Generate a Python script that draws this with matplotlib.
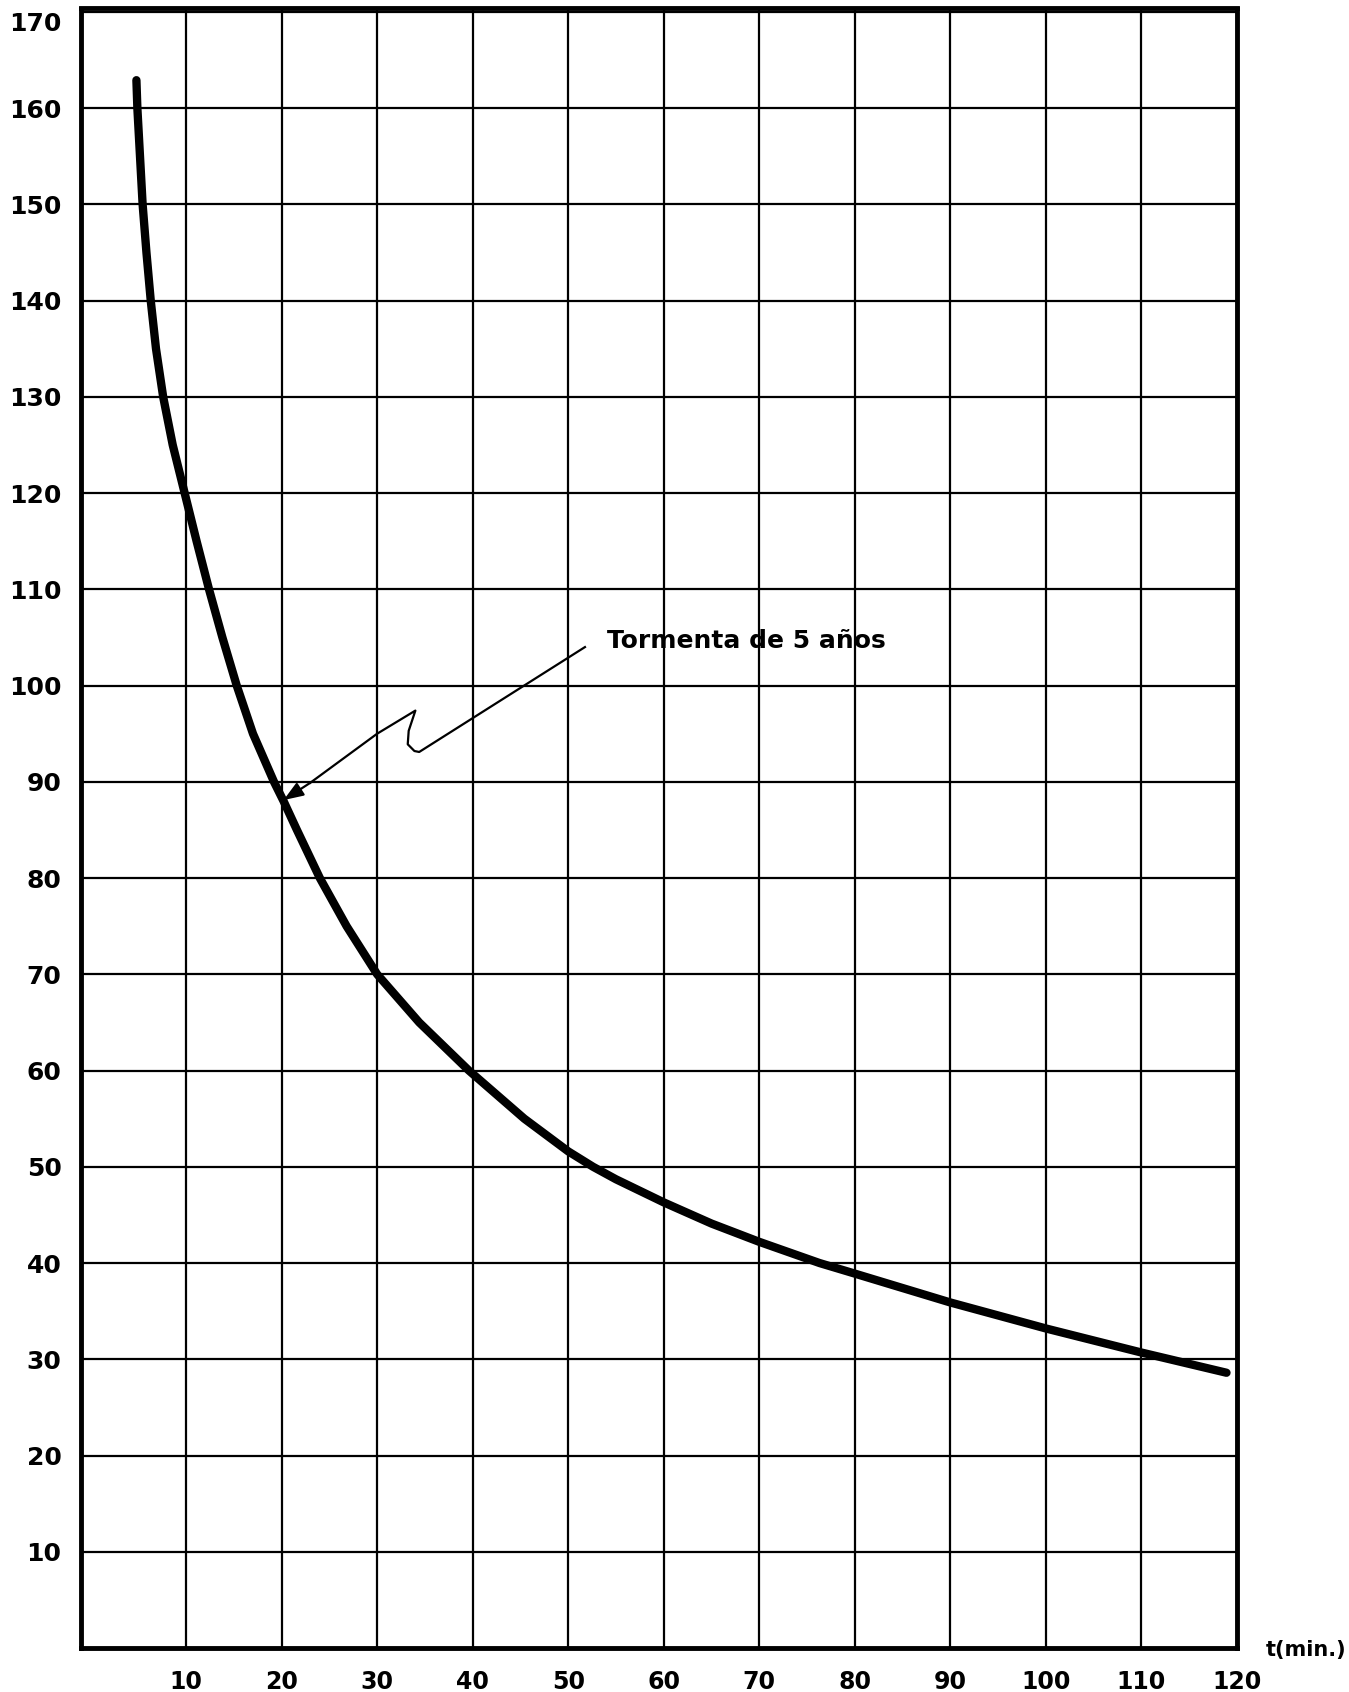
import numpy as np
import matplotlib
matplotlib.use("Agg")
import matplotlib.pyplot as plt
import matplotlib.transforms as mtransforms

# curve: duration (min) vs intensity
t_min = [4.8, 4.9, 5.45, 5.85, 6.3, 6.85, 7.6, 8.6, 9.85, 11.1, 12.4, 13.8,
         15.3, 17.0, 19.2, 20.2, 21.6, 24.0, 26.8, 30.0, 34.4, 39.6, 45.4,
         50.0, 52.6, 55.0, 60.0, 65.0, 70.0, 76.3, 80.0, 90.0, 100.0, 110.0,
         118.9]
intensity = [162.9, 160.0, 150.0, 145.0, 140.0, 135.0, 130.0, 125.0, 120.0,
             115.0, 110.0, 105.0, 100.0, 95.0, 90.0, 88.0, 85.0, 80.0, 75.0,
             70.0, 65.0, 60.0, 55.0, 51.6, 50.0, 48.7, 46.3, 44.1, 42.2, 40.0,
             38.9, 35.9, 33.2, 30.7, 28.6]

x_ticks = [10, 20, 30, 40, 50, 60, 70, 80, 90, 100, 110, 120]
y_ticks = [10, 20, 30, 40, 50, 60, 70, 80, 90, 100, 110, 120, 130, 140, 150,
           160, 170]

label_text = "Tormenta de 5 años"
# hand drawn leader from the label to the curve (with its little hook)
leader_t = [51.75, 34.4, 33.9, 33.2, 33.3, 34.0, 30.0, 23.0]
leader_v = [104.0, 93.1, 93.2, 93.9, 95.3, 97.4, 95.0, 89.9]
arrow_tip = (20.2, 88.1)

fig = plt.figure(figsize=(13.49, 16.92), dpi=100, facecolor="w")
ax = fig.add_axes([81 / 1349, 44 / 1692, (1237 - 81) / 1349, (1683.5 - 44) / 1692])

ax.set_xlim(-1.0, 120)
ax.set_ylim(0, 170.35)

ax.set_xticks(x_ticks)
ax.set_xticklabels([str(v) for v in x_ticks], fontsize=17, fontweight="bold")
ax.set_yticks(y_ticks)
ax.set_yticklabels([str(v) for v in y_ticks], fontsize=18, fontweight="bold")
ax.tick_params(axis="x", length=0, pad=16)
ax.tick_params(axis="y", length=0, pad=14)

# top label sits a bit below the frame in the original
lab = ax.get_yticklabels()[-1]
lab.set_transform(lab.get_transform() +
                  mtransforms.ScaledTranslation(0, -7 / 72, fig.dpi_scale_trans))

ax.grid(True, color="k", lw=1.6)
ax.set_axisbelow(True)
for s in ax.spines.values():
    s.set_linewidth(3.5)
    s.set_color("k")

ax.plot(t_min, intensity, c="k", lw=6, solid_capstyle="round",
        solid_joinstyle="round", zorder=5)

ax.plot(leader_t, leader_v, c="k", lw=1.6, zorder=6,
        solid_joinstyle="round")
ax.annotate("", xy=arrow_tip, xytext=(leader_t[-1], leader_v[-1]),
            arrowprops=dict(arrowstyle="-|>,head_length=1.2,head_width=0.45",
                            color="k", lw=1.6, shrinkA=0, shrinkB=0),
            zorder=6)
ax.text(54.1, 104.6, label_text, fontsize=18, fontweight="bold",
        ha="left", va="center", zorder=7)

fig.text(1306 / 1349, 1 - 1650 / 1692, "t(min.)", fontsize=15,
         fontweight="bold", ha="center", va="center")

fig.savefig("out.png", dpi=100, facecolor="w")
